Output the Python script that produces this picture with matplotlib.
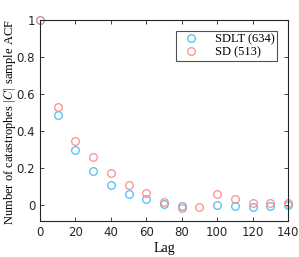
import matplotlib
matplotlib.use("Agg")
from matplotlib import pyplot as plt
import numpy as np

plt.rcParams['mathtext.fontset'] = 'cm'

lag_sdlt = [0, 10, 20, 30, 40, 50, 60, 70, 80, 100, 110, 120, 130, 140]
acf_sdlt = [1.0, 0.486, 0.297, 0.184, 0.112, 0.059, 0.032, 0.009, -0.004,
            0.0, -0.005, -0.011, -0.002, 0.002]
lag_sd = [0, 10, 20, 30, 40, 50, 60, 70, 80, 90, 100, 110, 120, 130, 140]
acf_sd = [1.0, 0.531, 0.348, 0.261, 0.175, 0.112, 0.065, 0.02, -0.015,
          -0.011, 0.061, 0.032, 0.011, 0.011, 0.011]
names = ['SDLT (634)', 'SD (513)']

serif = 'Liberation Serif'

fig = plt.figure(figsize=(2.99, 2.57), dpi=100)
ax = fig.add_axes([40/299, 36/257, 248/299, 201/257])

ax.plot(lag_sdlt, acf_sdlt, 'o', mfc='none', mec='#4dbeee', ms=5.5, mew=0.9,
        label=names[0], clip_on=False)
ax.plot(lag_sd, acf_sd, 'o', mfc='none', mec='#ff8c8c', ms=5.5, mew=0.9,
        label=names[1], clip_on=False)

ax.set_xlim(0, 140)
ax.set_ylim(-0.085, 1)
ax.set_xticks(np.arange(0, 141, 20))
ax.set_yticks([0, 0.2, 0.4, 0.6, 0.8, 1])
ax.set_yticklabels(['0', '0.2', '0.4', '0.6', '0.8', '1'])
ax.tick_params(direction='in', top=True, right=True, labelsize=8.5,
               length=3, width=0.6, colors='#262626')
for s in ax.spines.values():
    s.set_linewidth(0.8)
    s.set_color('#262626')

ax.set_xlabel('Lag', family=serif, fontsize=10, labelpad=2)
ax.set_ylabel(r'Number of catastrophes $|C|$ sample ACF', family=serif,
              fontsize=9)
ax.yaxis.set_label_coords(-0.088, 0.49)

leg = ax.legend(loc='upper right', prop={'family': serif, 'size': 9},
                frameon=True, fancybox=False, edgecolor='#262626',
                borderpad=0.2, handletextpad=0.9, labelspacing=0.1,
                handlelength=2.0, borderaxespad=0,
                bbox_to_anchor=(237/248, 190/201))
leg.get_frame().set_linewidth(0.8)

fig.savefig('out.png', dpi=100)
